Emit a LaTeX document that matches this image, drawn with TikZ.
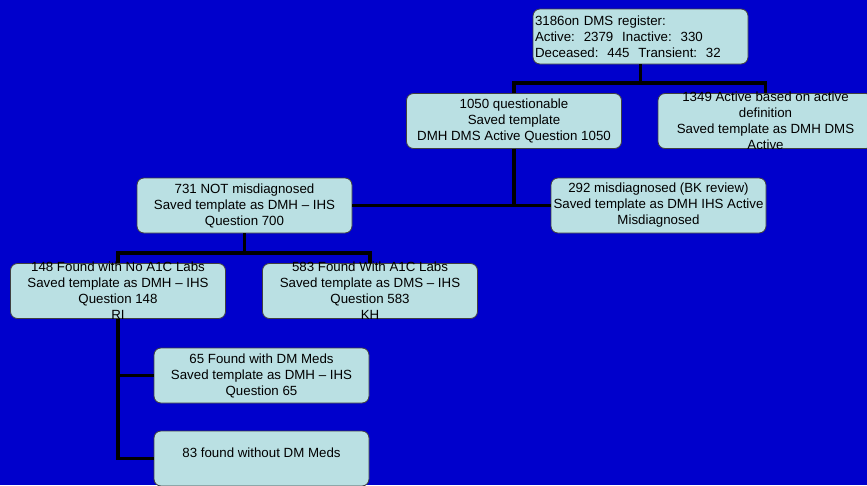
\documentclass[tikz,border=0pt]{standalone}
\usepackage{fontspec}
\setmainfont{Liberation Sans}
\usepackage{xcolor}
\usepackage{tikz}

\definecolor{bgblue}{RGB}{0,0,204}
\definecolor{boxfill}{RGB}{186,224,227}

\begin{document}
\begin{tikzpicture}[x=1pt,y=-1pt,
        box/.style={draw=black!75, line width=0.8pt, fill=boxfill, rounded corners=7pt,
            minimum width=215pt, minimum height=55pt, inner sep=2pt, align=center,
            font=\fontsize{13.3}{16}\selectfont},
        full/.style={inner ysep=-8pt},
        link/.style={line width=3.5pt}]
        \fill[bgblue] (0,0) rectangle (867,485);
        \useasboundingbox (0,0) rectangle (867,485);

        \node[box, align=left, text width=211pt] (3186) at (640.5,36.5) {3186on DMS register:\\Active:\ \ 2379\ \ Inactive:\ \ 330\\Deceased:\ \ 445\ \ Transient:\ \ 32};
        \node[box] (1050) at (514,121) {1050 questionable\\Saved template\\DMH DMS Active Question 1050};
        \node[box, full] (1349) at (765.5,121) {1349 Active based on active\\definition\\Saved template as DMH DMS\\Active};
        \node[box] (731) at (244.5,205.5) {731 NOT misdiagnosed\\Saved template as DMH -- IHS\\Question 700};
        \node[box] (292) at (658.5,205.5) {292 misdiagnosed (BK review)\\Saved template as DMH IHS Active\\Misdiagnosed};
        \node[box, full] (148) at (118,291) {148 Found with No A1C Labs\\Saved template as DMH -- IHS\\Question 148\\RI};
        \node[box, full] (583) at (370,291) {583 Found With A1C Labs\\Saved template as DMS -- IHS\\Question 583\\KH};
        \node[box] (65) at (261.5,375.5) {65 Found with DM Meds\\Saved template as DMH -- IHS\\Question 65};
        \node[box] (83) at (261.5,458.5) {83 found without DM Meds\\[-5pt]\mbox{}};

        \coordinate (top) at (640.5,83);
        \coordinate (mid) at (244.5,253);

        \draw[link] (3186) -- (top);
        \draw[link] (1050.north) |- (top) -| (1349.north);
        \draw[link] (1050.south) |- (731.east);
        \draw[link] (1050.south) |- (292.west);
        \draw[link] (731) -- (mid);
        \draw[link] (148.north) |- (mid) -| (583.north);
        \draw[link] (148.south) |- (65.west);
        \draw[link] (148.south) |- (83.west);
    \end{tikzpicture}
\end{document}
